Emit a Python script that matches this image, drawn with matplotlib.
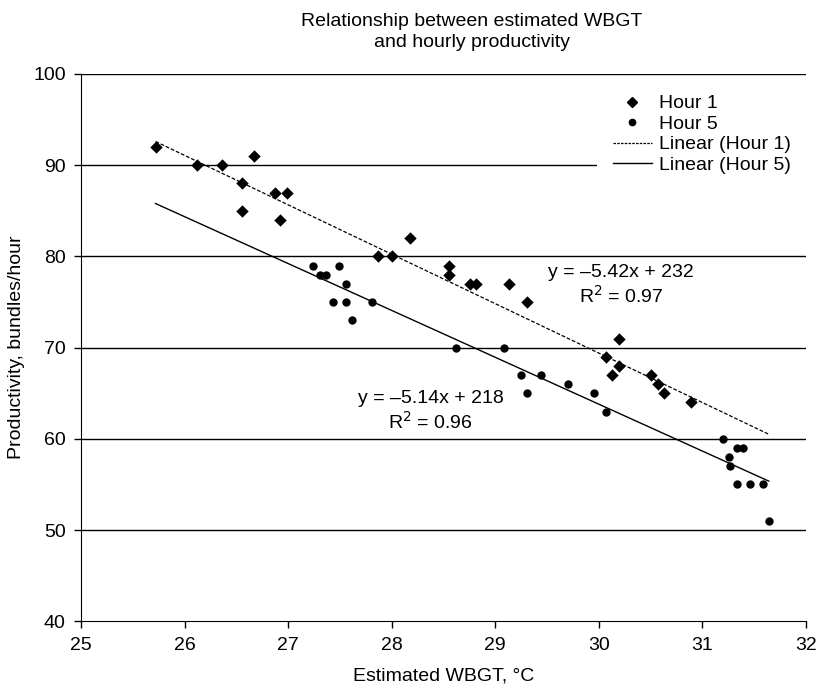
import numpy as np
import matplotlib
matplotlib.use('Agg')
import matplotlib.pyplot as plt
from matplotlib.lines import Line2D

plt.rcParams['font.family'] = ['Liberation Sans', 'DejaVu Sans']

# Hour 1 (diamonds): WBGT and productivity
h1_wbgt = [25.72, 26.12, 26.36, 26.67, 26.55, 26.87, 26.99, 26.55, 26.92,
           27.87, 28.00, 28.18, 28.55, 28.55, 28.76, 28.81, 29.13, 29.31,
           30.19, 30.07, 30.19, 30.13, 30.50, 30.57, 30.63, 30.89]
h1_prod = [92, 90, 90, 91, 88, 87, 87, 85, 84,
           80, 80, 82, 79, 78, 77, 77, 77, 75,
           71, 69, 68, 67, 67, 66, 65, 64]

# Hour 5 (dots)
h5_wbgt = [27.24, 27.31, 27.37, 27.49, 27.56, 27.43, 27.56, 27.62, 27.81,
           28.62, 29.08, 29.25, 29.44, 29.31, 29.70, 29.95, 30.07,
           31.20, 31.33, 31.39, 31.26, 31.27, 31.33, 31.46, 31.58, 31.64]
h5_prod = [79, 78, 78, 79, 77, 75, 75, 73, 75,
           70, 70, 67, 67, 65, 66, 65, 63,
           60, 59, 59, 58, 57, 55, 55, 55, 51]

# trend lines as printed on the chart
fit1 = (-5.42, 232)
fit5 = (-5.14, 218)
fit_range = [25.72, 31.64]

FS = 14

fig = plt.figure(figsize=(8.19, 6.88), dpi=100)
ax = fig.add_axes([81/819, 1 - 621.3/688, (806-81)/819, (621.3-74)/688])

ax.set_xlim(25, 32)
ax.set_ylim(40, 100)
ax.set_xticks(range(25, 33))
ax.set_yticks(range(40, 101, 10))

for yv in range(50, 101, 10):
    ax.axhline(yv, color='black', lw=1.0, zorder=0)

xs = np.array(fit_range)
ax.plot(xs, fit1[0]*xs + fit1[1], color='black', lw=0.9, ls=(0, (3, 1.5)), zorder=2)
ax.plot(xs, fit5[0]*xs + fit5[1], color='black', lw=1.0, zorder=2)

ax.scatter(h1_wbgt, h1_prod, marker='D', s=40, color='black', zorder=3, linewidths=0)
ax.scatter(h5_wbgt, h5_prod, marker='o', s=36, color='black', zorder=3, linewidths=0)

ax.text(29.51, 76.8, 'y = \u20135.42x + 232\nR$^2$ = 0.97', ha='left', va='center',
        multialignment='center', fontsize=FS, linespacing=1.2)
ax.text(27.67, 63.0, 'y = \u20135.14x + 218\nR$^2$ = 0.96', ha='left', va='center',
        multialignment='center', fontsize=FS, linespacing=1.2)

for s in ['top', 'right']:
    ax.spines[s].set_visible(False)
ax.tick_params(direction='out', length=5, width=1, labelsize=FS, colors='black', pad=6)
ax.set_xlabel('Estimated WBGT, \u00b0C', fontsize=FS, labelpad=10)
ax.set_ylabel('Productivity, bundles/hour', fontsize=FS, labelpad=6)

handles = [
    Line2D([], [], marker='D', color='black', ls='none', markersize=5),
    Line2D([], [], marker='o', color='black', ls='none', markersize=4.5),
    Line2D([], [], color='black', lw=0.9, ls=(0, (2, 1))),
    Line2D([], [], color='black', lw=1.0),
]
labels = ['Hour 1', 'Hour 5', 'Linear (Hour 1)', 'Linear (Hour 5)']
leg = ax.legend(handles, labels, loc='upper right', bbox_to_anchor=(1.011, 1.0037),
                frameon=True, fancybox=False, edgecolor='none', facecolor='white',
                framealpha=1, fontsize=FS, handlelength=2.0, handletextpad=0.4,
                labelspacing=0.15, borderpad=0.82, borderaxespad=0.35)

fig.text(472/819, 1 - 32/688, 'Relationship between estimated WBGT\nand hourly productivity',
         ha='center', va='center', fontsize=FS, linespacing=1.3)

fig.savefig('out.png', dpi=100)
